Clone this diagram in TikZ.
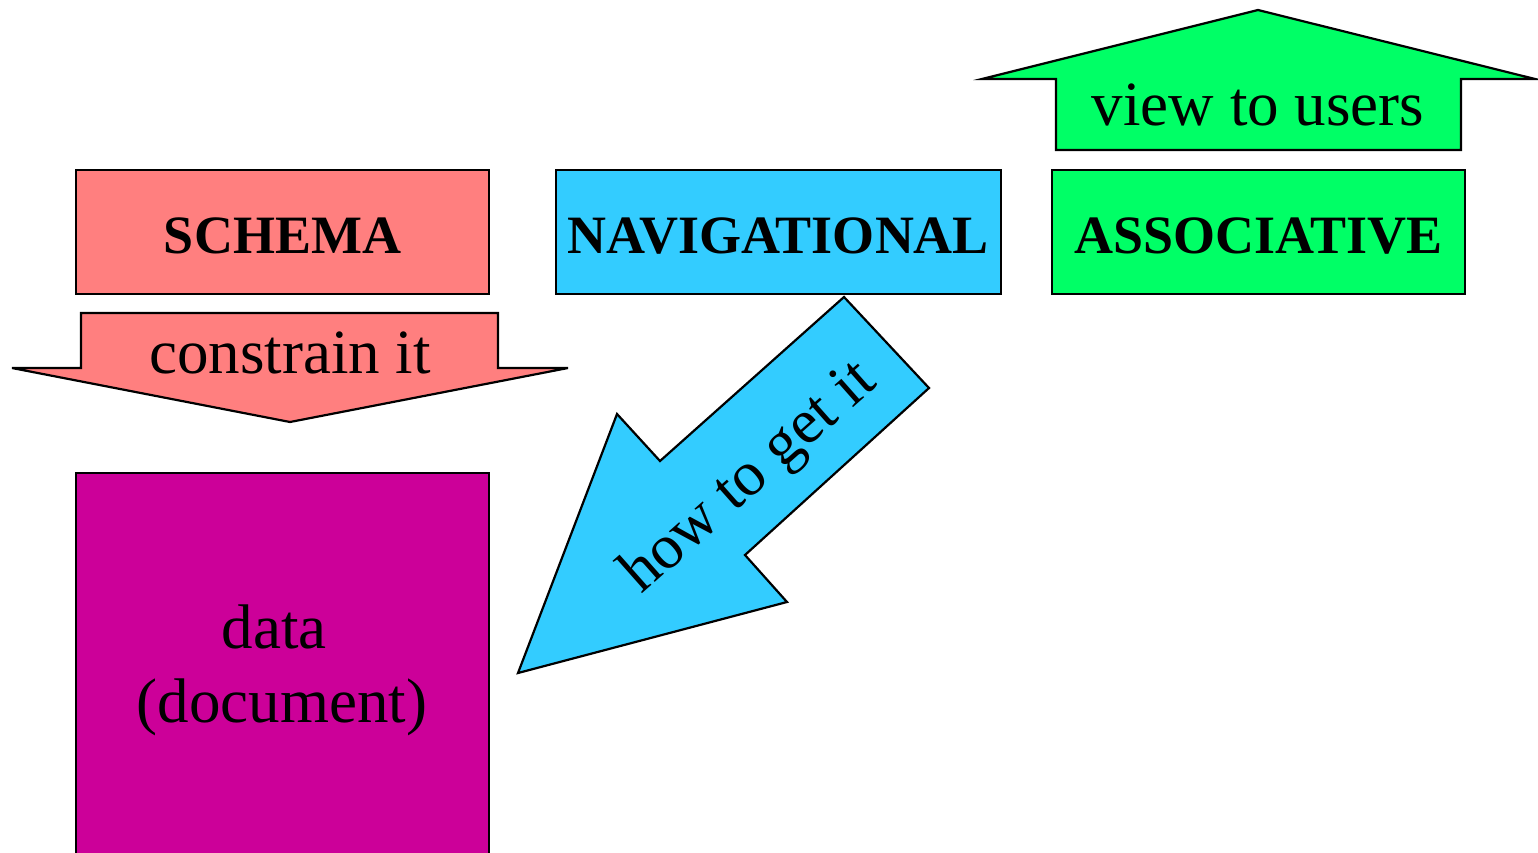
\documentclass[tikz,border=0pt]{standalone}
\usepackage{fontspec}
\setmainfont{Liberation Serif}
\definecolor{salmon}{HTML}{FF7F7F}
\definecolor{skyblue}{HTML}{33CCFF}
\definecolor{brightgreen}{HTML}{00FF66}
\definecolor{deepmagenta}{HTML}{CC0099}
\tikzset{
  outline/.style={draw=black, line width=2.2pt, line join=miter},
  layerbox/.style={outline, minimum width=413pt, minimum height=124pt, inner sep=0pt,
    text height=42pt, text depth=0pt,
    font=\fontsize{54}{62}\selectfont\bfseries},
  bigtext/.style={font=\fontsize{63}{74}\selectfont, inner sep=0pt, anchor=base},
}
\begin{document}
\begin{tikzpicture}[x=1pt,y=-1pt]
\useasboundingbox (0,0) rectangle (1538,852);
\clip (0,0) rectangle (1538,852);

% three layer boxes
\node[layerbox, fill=salmon] (schema) at (282.5,232) {SCHEMA};
\node[layerbox, fill=skyblue, minimum width=445pt] (nav) at (778.5,232) {NAVIGATIONAL};
\node[layerbox, fill=brightgreen] (assoc) at (1258.5,232) {ASSOCIATIVE};

% the data block, running off the bottom edge
\draw[outline, fill=deepmagenta] (76,473) rectangle (489,880);
\node[bigtext] (data) at (274,648) {data};
\node[bigtext] (doc) at (282,722) {(document)};

% up arrow above the associative layer
\draw[outline, fill=brightgreen]
  (1056,150) -- (1056,79) -- (982,79) -- (1258,10) -- (1535,79)
  -- (1461,79) -- (1461,150) -- cycle;
\node[bigtext] (view) at (1258,125) {view to users};

% down arrow below the schema layer
\draw[outline, fill=salmon]
  (81,313) -- (498,313) -- (498,368) -- (568,368) -- (290,422)
  -- (12,368) -- (81,368) -- cycle;
\node[bigtext] (constrain) at (290,373) {constrain it};

% slanted arrow from the navigational layer toward the data
\draw[outline, fill=skyblue]
  (844,297) -- (929,388) -- (745,555) -- (787,602) -- (518,673)
  -- (617,414) -- (660,461) -- cycle;
\node[bigtext, rotate=41.5] (howto) at (760,490) {how to get it};
\end{tikzpicture}
\end{document}
